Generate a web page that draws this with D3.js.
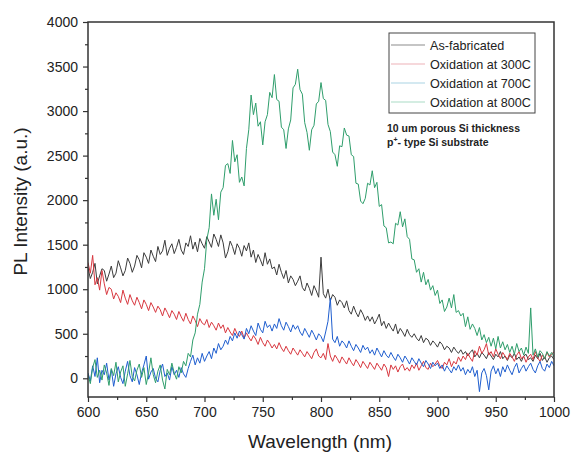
<!DOCTYPE html>
<html>
<head>
<meta charset="utf-8">
<script src="https://cdn.jsdelivr.net/npm/d3@7/dist/d3.min.js"></script>
<style>
  body { margin: 0; background: #fff; }
  svg { font-family: "Liberation Sans", Arial, sans-serif; }
</style>
</head>
<body>
<div id="chart"></div>
<script>
// wavelength grid (nm)
var wavelength = [
  600,602,604,606,608,610,612,614,616,618,620,622,624,626,628,630,632,634,636,638,
  640,642,644,646,648,650,652,654,656,658,660,662,664,666,668,670,672,674,676,678,
  680,682,684,686,688,690,692,694,696,698,700,702,704,706,708,710,712,714,716,718,
  720,722,724,726,728,730,732,734,736,738,740,742,744,746,748,750,752,754,756,758,
  760,762,764,766,768,770,772,774,776,778,780,782,784,786,788,790,792,794,796,798,
  800,802,804,806,808,810,812,814,816,818,820,822,824,826,828,830,832,834,836,838,
  840,842,844,846,848,850,852,854,856,858,860,862,864,866,868,870,872,874,876,878,
  880,882,884,886,888,890,892,894,896,898,900,902,904,906,908,910,912,914,916,918,
  920,922,924,926,928,930,932,934,936,938,940,942,944,946,948,950,952,954,956,958,
  960,962,964,966,968,970,972,974,976,978,980,982,984,986,988,990,992,994,996,998,
  1000
];

var asFabricated = [
  1240,1120,1190,1290,1060,1150,1230,1210,1090,1170,
  1260,1130,1180,1320,1240,1150,1210,1350,1290,1190,
  1260,1380,1330,1240,1410,1360,1290,1440,1370,1310,
  1480,1390,1430,1550,1380,1460,1510,1400,1470,1560,
  1440,1390,1520,1480,1600,1450,1530,1420,1570,1510,
  1460,1590,1530,1470,1620,1560,1480,1610,1520,1350,
  1420,1540,1480,1390,1510,1460,1370,1490,1430,1520,
  1360,1440,1300,1390,1330,1260,1410,1280,1340,1230,
  1250,1160,1280,1190,1120,1210,1070,1150,1110,1040,
  1090,1150,1020,980,1070,1010,930,1040,980,910,
  1360,950,900,1000,870,940,910,820,880,850,
  790,870,760,720,810,740,690,770,720,650,
  700,640,690,610,660,720,590,640,560,620,
  570,530,610,500,560,520,470,550,490,460,
  500,450,420,480,400,450,430,370,420,390,
  350,410,380,320,360,340,290,350,310,280,
  320,270,300,250,290,320,240,280,230,290,
  260,220,290,250,210,270,240,300,220,250,
  200,260,230,280,210,240,190,250,270,210,
  230,190,260,220,280,200,240,180,230,250,
  210
];

var ox300 = [
  1300,1180,1380,1050,1130,990,1210,1060,940,1020,
  1000,890,960,920,850,990,900,830,940,870,
  820,910,850,780,880,830,760,850,800,740,
  810,770,700,790,740,680,760,720,660,750,
  690,640,730,660,610,700,650,580,670,620,
  600,660,570,630,590,540,620,560,600,510,
  570,520,480,560,500,470,530,450,510,460,
  420,480,440,380,460,400,360,430,390,340,
  380,330,400,340,300,360,310,270,340,300,
  260,320,280,240,300,260,220,290,330,250,
  230,280,210,390,250,190,260,220,170,240,
  200,160,230,180,140,210,170,120,190,150,
  110,180,140,100,170,130,90,160,120,20,
  150,100,140,70,130,160,90,120,80,150,
  110,170,90,140,190,120,100,170,130,160,
  200,140,110,180,150,220,130,190,160,240,
  190,250,210,280,230,190,310,260,360,280,
  320,390,260,300,240,330,270,220,290,250,
  210,280,240,190,260,300,220,250,180,240,
  270,210,300,230,190,260,220,290,240,270,
  300
];

var ox700 = [
  60,-30,140,20,230,-50,90,40,170,-20,
  100,-90,50,130,10,-60,80,190,30,-40,
  120,40,-70,60,150,250,-10,70,110,0,
  -40,90,160,20,60,-20,130,40,90,10,
  120,50,10,110,190,260,150,230,170,280,
  190,250,300,220,340,280,390,320,360,430,
  380,470,420,510,450,530,490,440,560,500,
  590,530,480,620,550,510,640,570,600,530,
  610,560,670,590,540,630,580,520,600,550,
  590,520,480,560,510,460,540,490,430,500,
  470,410,520,640,900,440,400,470,360,420,
  390,340,420,360,310,380,340,290,370,320,
  350,280,320,260,340,290,240,310,260,230,
  290,240,200,270,230,180,250,210,160,230,
  190,150,220,170,130,200,160,110,180,140,
  170,110,150,80,140,100,60,130,90,150,
  80,120,40,100,60,130,20,90,-150,60,
  110,30,-130,80,140,50,110,20,130,70,
  150,90,40,120,170,60,110,150,80,130,
  170,100,60,140,190,110,80,160,120,190,
  140
];

var ox800 = [
  40,-60,120,210,10,90,-20,150,60,-80,
  110,30,180,-40,70,140,-90,50,200,20,
  -30,90,160,10,120,-70,60,230,40,-50,
  80,150,-20,-120,100,40,170,60,-10,130,
  60,190,140,280,240,430,510,720,830,1080,
  1230,1560,1690,2070,1830,2010,1780,2090,2140,2390,
  2410,2300,2670,2430,2510,2200,2260,2160,2580,2790,
  3180,2960,3090,2830,2880,2620,2880,2960,3210,3150,
  3410,3130,3110,2820,2790,2580,2800,2900,3260,3300,
  3470,3240,3190,2870,2760,2560,2790,2840,3080,3110,
  3320,3140,3120,2850,2770,2540,2510,2380,2610,2600,
  2810,2730,2720,2510,2490,2190,2180,1990,1960,2020,
  2190,2170,2330,2140,2200,1930,1950,1710,1690,1520,
  1530,1510,1740,1720,1870,1700,1790,1590,1560,1340,
  1330,1190,1230,1080,1190,1050,1110,990,1040,930,
  990,840,880,750,800,900,790,940,740,760,
  700,730,580,690,550,610,560,480,570,430,
  490,400,460,360,450,330,470,340,410,320,
  380,290,360,270,390,300,340,260,350,280,
  790,260,330,240,310,280,220,300,250,290,
  240
];

var seriesNames = ["As-fabricated", "Oxidation at 300C", "Oxidation at 700C", "Oxidation at 800C"];
var seriesColors = ["#3b3b3b", "#d8373f", "#1f5ecf", "#2f9e6c"];
var legendColors = ["#8c8c8c", "#eeb1b8", "#a9d3e3", "#a9dcc6"];
var seriesData = [asFabricated, ox300, ox700, ox800];

var xTicks = [600, 650, 700, 750, 800, 850, 900, 950, 1000];
var yTicks = [0, 500, 1000, 1500, 2000, 2500, 3000, 3500, 4000];

function init() {
  var w = 572, h = 455;
  var left = 88, right = 554, top = 22, bottom = 397;

  var x = d3.scaleLinear().domain([600, 1000]).range([left, right]);
  var y = d3.scaleLinear().domain([-210, 4000]).range([bottom, top]);

  var svg = d3.select("#chart").append("svg")
    .attr("width", w)
    .attr("height", h);

  svg.append("defs").append("clipPath").attr("id", "plotClip")
    .append("rect")
    .attr("x", left).attr("y", top)
    .attr("width", right - left).attr("height", bottom - top);

  // spectra
  var line = d3.line()
    .x(function (d, i) { return x(wavelength[i]); })
    .y(function (d) { return y(d); });

  var plot = svg.append("g").attr("clip-path", "url(#plotClip)");
  seriesData.forEach(function (s, k) {
    plot.append("path")
      .datum(s)
      .attr("d", line)
      .attr("fill", "none")
      .attr("stroke", seriesColors[k])
      .attr("stroke-width", 1)
      .attr("stroke-linejoin", "round");
  });

  // axes
  var xAxis = d3.axisBottom(x).tickValues(xTicks).tickSize(5).tickPadding(5).tickFormat(d3.format("d"));
  var xMinor = d3.axisBottom(x).tickValues(d3.range(625, 1000, 50)).tickSize(3).tickFormat("");
  var yAxis = d3.axisLeft(y).tickValues(yTicks).tickSize(5).tickPadding(5).tickFormat(d3.format("d"));
  var yMinor = d3.axisLeft(y).tickValues(d3.range(250, 4000, 500)).tickSize(3).tickFormat("");

  var gx = svg.append("g").attr("transform", "translate(0," + bottom + ")").call(xAxis);
  svg.append("g").attr("transform", "translate(0," + bottom + ")").call(xMinor);
  var gy = svg.append("g").attr("transform", "translate(" + left + ",0)").call(yAxis);
  svg.append("g").attr("transform", "translate(" + left + ",0)").call(yMinor);

  svg.selectAll(".domain").remove();
  svg.selectAll(".tick line").attr("stroke", "#333").attr("stroke-width", 1.2);
  gx.selectAll("text").style("font-size", "14px").attr("fill", "#222");
  gy.selectAll("text").style("font-size", "14px").attr("fill", "#222");

  // frame
  svg.append("rect")
    .attr("x", left).attr("y", top)
    .attr("width", right - left).attr("height", bottom - top)
    .attr("fill", "none")
    .attr("stroke", "#333")
    .attr("stroke-width", 1.5);

  // axis titles
  svg.append("text")
    .attr("x", (left + right) / 2 - 1)
    .attr("y", 448)
    .attr("text-anchor", "middle")
    .style("font-size", "19px")
    .attr("fill", "#222")
    .text("Wavelength (nm)");

  svg.append("text")
    .attr("transform", "translate(27," + ((top + bottom) / 2 - 8) + ") rotate(-90)")
    .attr("text-anchor", "middle")
    .style("font-size", "19px")
    .attr("fill", "#222")
    .text("PL Intensity (a.u.)");

  // legend
  var lg = svg.append("g");
  lg.append("rect")
    .attr("x", 389).attr("y", 33)
    .attr("width", 146).attr("height", 80)
    .attr("fill", "#fff")
    .attr("stroke", "#444")
    .attr("stroke-width", 1);
  seriesNames.forEach(function (name, k) {
    var ly = 45 + k * 19;
    lg.append("line")
      .attr("x1", 391).attr("x2", 425)
      .attr("y1", ly).attr("y2", ly)
      .attr("stroke", legendColors[k])
      .attr("stroke-width", 1.2);
    lg.append("text")
      .attr("x", 430).attr("y", ly + 4.5)
      .style("font-size", "12.6px")
      .attr("fill", "#222")
      .text(name);
  });

  var l1 = svg.append("text")
    .attr("x", 387).attr("y", 132)
    .style("font-size", "10.5px")
    .style("font-weight", "bold")
    .attr("fill", "#222")
    .text("10 um porous Si thickness");
  var l2 = svg.append("text")
    .attr("x", 387).attr("y", 146)
    .style("font-size", "10.5px")
    .style("font-weight", "bold")
    .attr("fill", "#222");
  l2.append("tspan").text("p");
  l2.append("tspan").attr("dy", -4).style("font-size", "7px").text("+");
  l2.append("tspan").attr("dy", 4).text("- type Si substrate");
}

window.onload = init;
</script>
</body>
</html>
